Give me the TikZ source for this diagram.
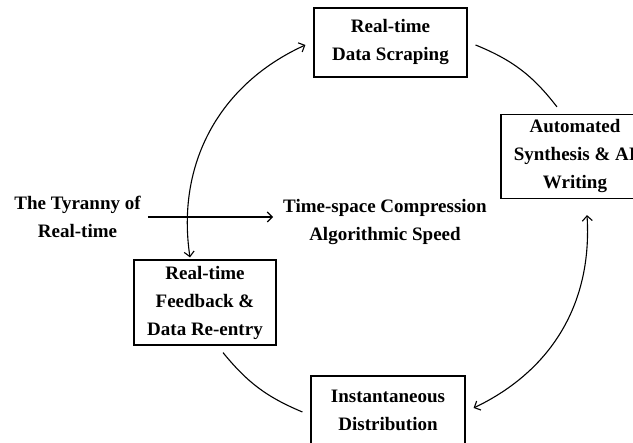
\documentclass[tikz,border=0pt]{standalone}
\usepackage{fontspec}
\setmainfont{Liberation Serif}
\usetikzlibrary{arrows.meta,calc}
\begin{document}
\begin{tikzpicture}[x=1pt,y=1pt,
  txt/.style={align=center, font=\bfseries\fontsize{19}{28}\selectfont},
  box/.style={txt, draw, line width=1.2pt, inner sep=0pt},
  conn/.style={line width=1.1pt},
  >={Straight Barb[length=5pt,width=10pt]}]
\useasboundingbox (0,0) rectangle (633,443);
\clip (0,0) rectangle (633,443);
\node[box, minimum width=153pt, minimum height=69pt] (top) at (390.5,400.5) {Real-time\\Data Scraping};
\node[box, minimum width=148pt, minimum height=84pt] (right) at (575,286.5) {Automated\\Synthesis \& AI\\Writing};
\node[box, minimum width=142pt, minimum height=85pt] (left) at (205,140.5) {\rule{0pt}{6pt}Real-time\\Feedback \&\\Data Re-entry};
\node[box, minimum width=154pt, minimum height=69pt] (bottom) at (388,32.5) {Instantaneous\\Distribution};
\node[txt, inner sep=7pt] (tyr) at (77.5,226) {The Tyranny of\\Real-time};
\node[txt, inner sep=10pt] (ctr) at (385,221) {Time-space Compression\\Algorithmic Speed};
\coordinate (a) at ($(left.north)+(-15,2)$);
\coordinate (b) at ($(top.west)+(-8,-2.5)$);
\coordinate (c) at ($(top.east)+(8,-2.5)$);
\coordinate (d) at ($(right.north)+(-18,7)$);
\coordinate (e) at ($(right.south)+(12,-16)$);
\coordinate (f) at ($(bottom.east)+(8,2.5)$);
\coordinate (g) at ($(left.south)+(18,-7)$);
\coordinate (h) at ($(bottom.west)+(-8,-1.5)$);
\draw[conn,<->] (a) to[bend left=37] (b);
\draw[conn] (c) to[bend left=15] (d);
\draw[conn,<->] (e) to[bend left=34] (f);
\draw[conn] (g) to[bend right=14] (h);
\draw[conn,->] (tyr.east) -- (tyr.east -| ctr.west);
\end{tikzpicture}
\end{document}
